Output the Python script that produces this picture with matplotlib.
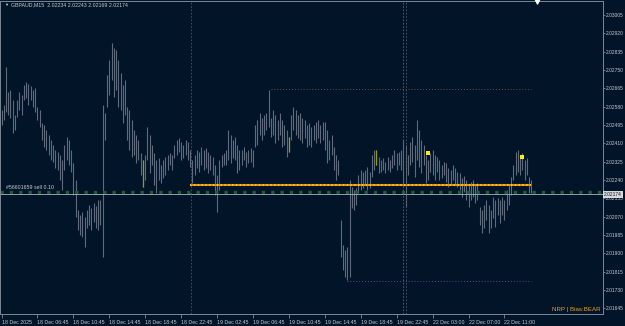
import numpy as np
import matplotlib
matplotlib.use("Agg")
import matplotlib.pyplot as plt
import matplotlib.transforms as mtransforms

plt.rcParams['font.family'] = ['Liberation Sans', 'DejaVu Sans']

# ====== DATA (GBPAUD M15) ======
symbol_line = "GBPAUD,M15  2.02234 2.02243 2.02169 2.02174"
order_label = "#56601659 sell 0.10"
bias_label = "NRP | Bias:BEAR"
last_price = 2.02174

highs = [
    2.02565, 2.02588, 2.02764, 2.02648, 2.02657, 2.02611, 2.02541, 2.02611, 2.02648, 2.02634,
    2.02681, 2.02695, 2.02685, 2.02676, 2.02657, 2.02667, 2.02579, 2.02565, 2.02504, 2.02495,
    2.02472, 2.02449, 2.02425, 2.02402, 2.02379, 2.02370, 2.02356, 2.02333, 2.02402, 2.02439,
    2.02425, 2.02379, 2.02319, 2.02240, 2.02101, 2.02077, 2.02091, 2.02068, 2.02101, 2.02124,
    2.02110, 2.02133, 2.02119, 2.02147, 2.02147, 2.02588, 2.02551, 2.02727, 2.02797, 2.02875,
    2.02852, 2.02843, 2.02797, 2.02736, 2.02681, 2.02704, 2.02579, 2.02565, 2.02518, 2.02472,
    2.02449, 2.02425, 2.02365, 2.02333, 2.02356, 2.02486, 2.02449, 2.02402, 2.02365, 2.02333,
    2.02342, 2.02309, 2.02333, 2.02347, 2.02356, 2.02365, 2.02356, 2.02402, 2.02425, 2.02435,
    2.02416, 2.02402, 2.02425, 2.02416, 2.02379, 2.02333, 2.02356, 2.02379, 2.02370, 2.02393,
    2.02379, 2.02388, 2.02370, 2.02356, 2.02347, 2.02309, 2.02263, 2.02333, 2.02356, 2.02365,
    2.02379, 2.02472, 2.02449, 2.02425, 2.02439, 2.02402, 2.02379, 2.02379, 2.02393, 2.02370,
    2.02379, 2.02388, 2.02379, 2.02495, 2.02518, 2.02551, 2.02527, 2.02541, 2.02551, 2.02657,
    2.02527, 2.02565, 2.02541, 2.02518, 2.02551, 2.02518, 2.02495, 2.02472, 2.02439, 2.02541,
    2.02579, 2.02565, 2.02541, 2.02551, 2.02527, 2.02518, 2.02495, 2.02504, 2.02486, 2.02495,
    2.02509, 2.02518, 2.02495, 2.02509, 2.02509, 2.02472, 2.02425, 2.02449, 2.02393, 2.02356,
    2.02333, 2.02054, 2.01938, 2.01915, 2.01929, 2.02240, 2.02207, 2.02193, 2.02203, 2.02263,
    2.02286, 2.02277, 2.02286, 2.02300, 2.02277, 2.02356, 2.02379, 2.02379, 2.02347, 2.02333,
    2.02342, 2.02323, 2.02347, 2.02333, 2.02356, 2.02379, 2.02365, 2.02370, 2.02379, 2.02425,
    2.02402, 2.02356, 2.02416, 2.02439, 2.02402, 2.02518, 2.02472, 2.02425, 2.02402, 2.02356,
    2.02333, 2.02365, 2.02379, 2.02356, 2.02347, 2.02333, 2.02309, 2.02323, 2.02319, 2.02295,
    2.02286, 2.02309, 2.02295, 2.02277, 2.02272, 2.02249, 2.02258, 2.02240, 2.02217, 2.02231,
    2.02240, 2.02217, 2.02226, 2.02115, 2.02101, 2.02124, 2.02147, 2.02124, 2.02101, 2.02161,
    2.02147, 2.02156, 2.02147, 2.02161, 2.02147, 2.02193, 2.02217, 2.02254, 2.02309, 2.02370,
    2.02379, 2.02356, 2.02365, 2.02333, 2.02342, 2.02254, 2.02240,
]
lows = [
    2.02495, 2.02518, 2.02555, 2.02541, 2.02527, 2.02458, 2.02472, 2.02532, 2.02565, 2.02541,
    2.02611, 2.02620, 2.02588, 2.02611, 2.02579, 2.02555, 2.02518, 2.02486, 2.02425, 2.02393,
    2.02379, 2.02356, 2.02333, 2.02323, 2.02295, 2.02286, 2.02240, 2.02193, 2.02286, 2.02333,
    2.02309, 2.02277, 2.02170, 2.02068, 2.02008, 2.01985, 2.01975, 2.01929, 2.02017, 2.02031,
    2.02008, 2.02045, 2.02017, 2.02008, 2.02031, 2.01883, 2.02425, 2.02579, 2.02634, 2.02704,
    2.02625, 2.02657, 2.02579, 2.02565, 2.02504, 2.02541, 2.02425, 2.02379, 2.02347, 2.02356,
    2.02319, 2.02333, 2.02263, 2.02207, 2.02240, 2.02333, 2.02272, 2.02309, 2.02217, 2.02179,
    2.02240, 2.02226, 2.02249, 2.02263, 2.02286, 2.02309, 2.02286, 2.02342, 2.02356, 2.02370,
    2.02333, 2.02342, 2.02356, 2.02333, 2.02300, 2.02226, 2.02263, 2.02295, 2.02277, 2.02309,
    2.02286, 2.02295, 2.02272, 2.02286, 2.02263, 2.02170, 2.02091, 2.02193, 2.02300, 2.02309,
    2.02309, 2.02333, 2.02319, 2.02342, 2.02333, 2.02272, 2.02286, 2.02309, 2.02333, 2.02300,
    2.02319, 2.02323, 2.02300, 2.02393, 2.02402, 2.02449, 2.02425, 2.02449, 2.02472, 2.02486,
    2.02439, 2.02449, 2.02411, 2.02425, 2.02449, 2.02393, 2.02402, 2.02347, 2.02370, 2.02425,
    2.02472, 2.02449, 2.02435, 2.02425, 2.02411, 2.02435, 2.02393, 2.02402, 2.02393, 2.02425,
    2.02411, 2.02435, 2.02411, 2.02425, 2.02379, 2.02319, 2.02333, 2.02356, 2.02286, 2.02240,
    2.02263, 2.01883, 2.01822, 2.01790, 2.01776, 2.01790, 2.02110, 2.02101, 2.02124, 2.02179,
    2.02193, 2.02203, 2.02217, 2.02193, 2.02203, 2.02254, 2.02286, 2.02309, 2.02272, 2.02277,
    2.02286, 2.02272, 2.02286, 2.02277, 2.02295, 2.02309, 2.02286, 2.02309, 2.02286, 2.02217,
    2.02115, 2.02263, 2.02309, 2.02323, 2.02254, 2.02333, 2.02300, 2.02272, 2.02309, 2.02226,
    2.02240, 2.02277, 2.02263, 2.02240, 2.02277, 2.02240, 2.02249, 2.02263, 2.02231, 2.02207,
    2.02217, 2.02240, 2.02221, 2.02207, 2.02193, 2.02161, 2.02184, 2.02147, 2.02115, 2.02147,
    2.02161, 2.02133, 2.02147, 2.02031, 2.01994, 2.02017, 2.02054, 2.01994, 2.02017, 2.02063,
    2.02022, 2.02077, 2.02040, 2.02077, 2.02054, 2.02101, 2.02124, 2.02170, 2.02240, 2.02263,
    2.02277, 2.02263, 2.02286, 2.02240, 2.02263, 2.02179, 2.02179,
]
signal_bars = [63, 128, 167]          # bars painted olive by the indicator
dot_bars = [190, 232]                 # yellow markers
dot_prices = [2.02365, 2.02347]

range_high = 2.02662
range_high_from = 120
range_low = 2.01771
range_low_from = 154
entry_price = 2.02217
entry_from = 84
order_price = 2.02185
separators = [84.4, 180]              # vertical dotted lines (bar index)
crosshair_bar = 179

time_labels = ["18 Dec 2025", "18 Dec 06:45", "18 Dec 10:45", "18 Dec 14:45", "18 Dec 18:45",
               "18 Dec 22:45", "19 Dec 02:45", "19 Dec 06:45", "19 Dec 10:45", "19 Dec 14:45",
               "19 Dec 18:45", "19 Dec 22:45", "22 Dec 03:00", "22 Dec 07:00", "22 Dec 11:00"]
BARS_PER_LABEL = 16
price_ticks = [2.03005 - 0.00085 * k for k in range(17)]

# ====== STYLE ======
BG = "#011428"
BAR = "#5f6b7d"
TXT = "#c4cad2"
AXC = "#7d8896"
FS = 3.8
FSY = 3.5

fig = plt.figure(figsize=(6.25, 3.26), dpi=100, facecolor=BG)
ax = fig.add_axes([0.0, 1 - 314 / 326, 603 / 625, 313 / 326], facecolor=BG)

n = len(highs)
idx = np.arange(n)
ax.vlines(idx, lows, highs, color=BAR, lw=0.8)
ax.vlines(signal_bars, [lows[i] for i in signal_bars], [highs[i] for i in signal_bars],
          color="#9a9a12", lw=0.9)

# levels
ax.hlines(range_high, range_high_from, n - 1, color="#6a5440", lw=0.7, linestyles=(0, (1, 2)))
ax.hlines(range_low, range_low_from, n - 1, color="#3c5a7a", lw=0.7, linestyles=(0, (1, 2)))
ax.axhline(order_price, color="#1b5e36", lw=2.4, ls=(0, (1.0, 1.8)))
ax.axhline(last_price, color="#aab2bc", lw=0.6)
ax.hlines(entry_price, entry_from, n - 1, color="#e08a10", lw=1.5)
ax.hlines(entry_price, entry_from, n - 1, color="#ffd23a", lw=1.1, linestyles=(0, (1, 1.5)))

for s in separators:
    ax.axvline(s, color="#4a5666", lw=0.6, ls=(0, (2, 2)))
ax.axvline(crosshair_bar, color="#6d6a20", lw=0.6, ls=(0, (2, 2)))

ax.scatter(dot_bars, dot_prices, marker="s", s=6, color="#ffee00", zorder=5, linewidths=0)

ax.text(2, order_price + 0.0001, order_label, color=TXT, fontsize=FS, va="bottom")

# axes
ax.set_xlim(-0.67, 267.9)
ax.set_ylim(2.01618, 2.03070)
ax.yaxis.tick_right()
ax.set_yticks(price_ticks)
ax.set_yticklabels([f"{p:.5f}" for p in price_ticks])
ax.set_xticks(np.arange(len(time_labels)) * BARS_PER_LABEL)
ax.set_xticklabels(time_labels, ha="left")
ax.tick_params(axis="y", colors=AXC, labelcolor=TXT, labelsize=FSY, length=1.5, pad=0.8, width=0.6)
ax.tick_params(axis="x", colors=AXC, labelcolor=TXT, labelsize=FS, length=3, pad=1.5, width=0.6)
for sp in ax.spines.values():
    sp.set_color(AXC)
    sp.set_linewidth(0.7)

# current price box on the price scale
ax.text(1.0015, last_price, f"{last_price:.5f}", transform=ax.get_yaxis_transform(),
        fontsize=FSY, color="#10161e", va="center", ha="left",
        bbox=dict(facecolor="#d6d8dc", edgecolor="none", pad=0.7))

# chart shift marker
ax.scatter([n + 1.5], [1.0], marker="v", s=14, color="white",
           transform=mtransforms.blended_transform_factory(ax.transData, ax.transAxes),
           clip_on=False, zorder=6)

fig.text(4 / 625, 1 - 5 / 326, "\u25bc", color="#d0d4da", fontsize=3, va="center")
fig.text(11 / 625, 1 - 5 / 326, symbol_line, color=TXT, fontsize=FS, va="center")
fig.text(600 / 625, 1 - 309 / 326, bias_label, color="#e8a020", fontsize=4.4, va="center", ha="right")

fig.savefig("out.png", dpi=100, facecolor=BG)
